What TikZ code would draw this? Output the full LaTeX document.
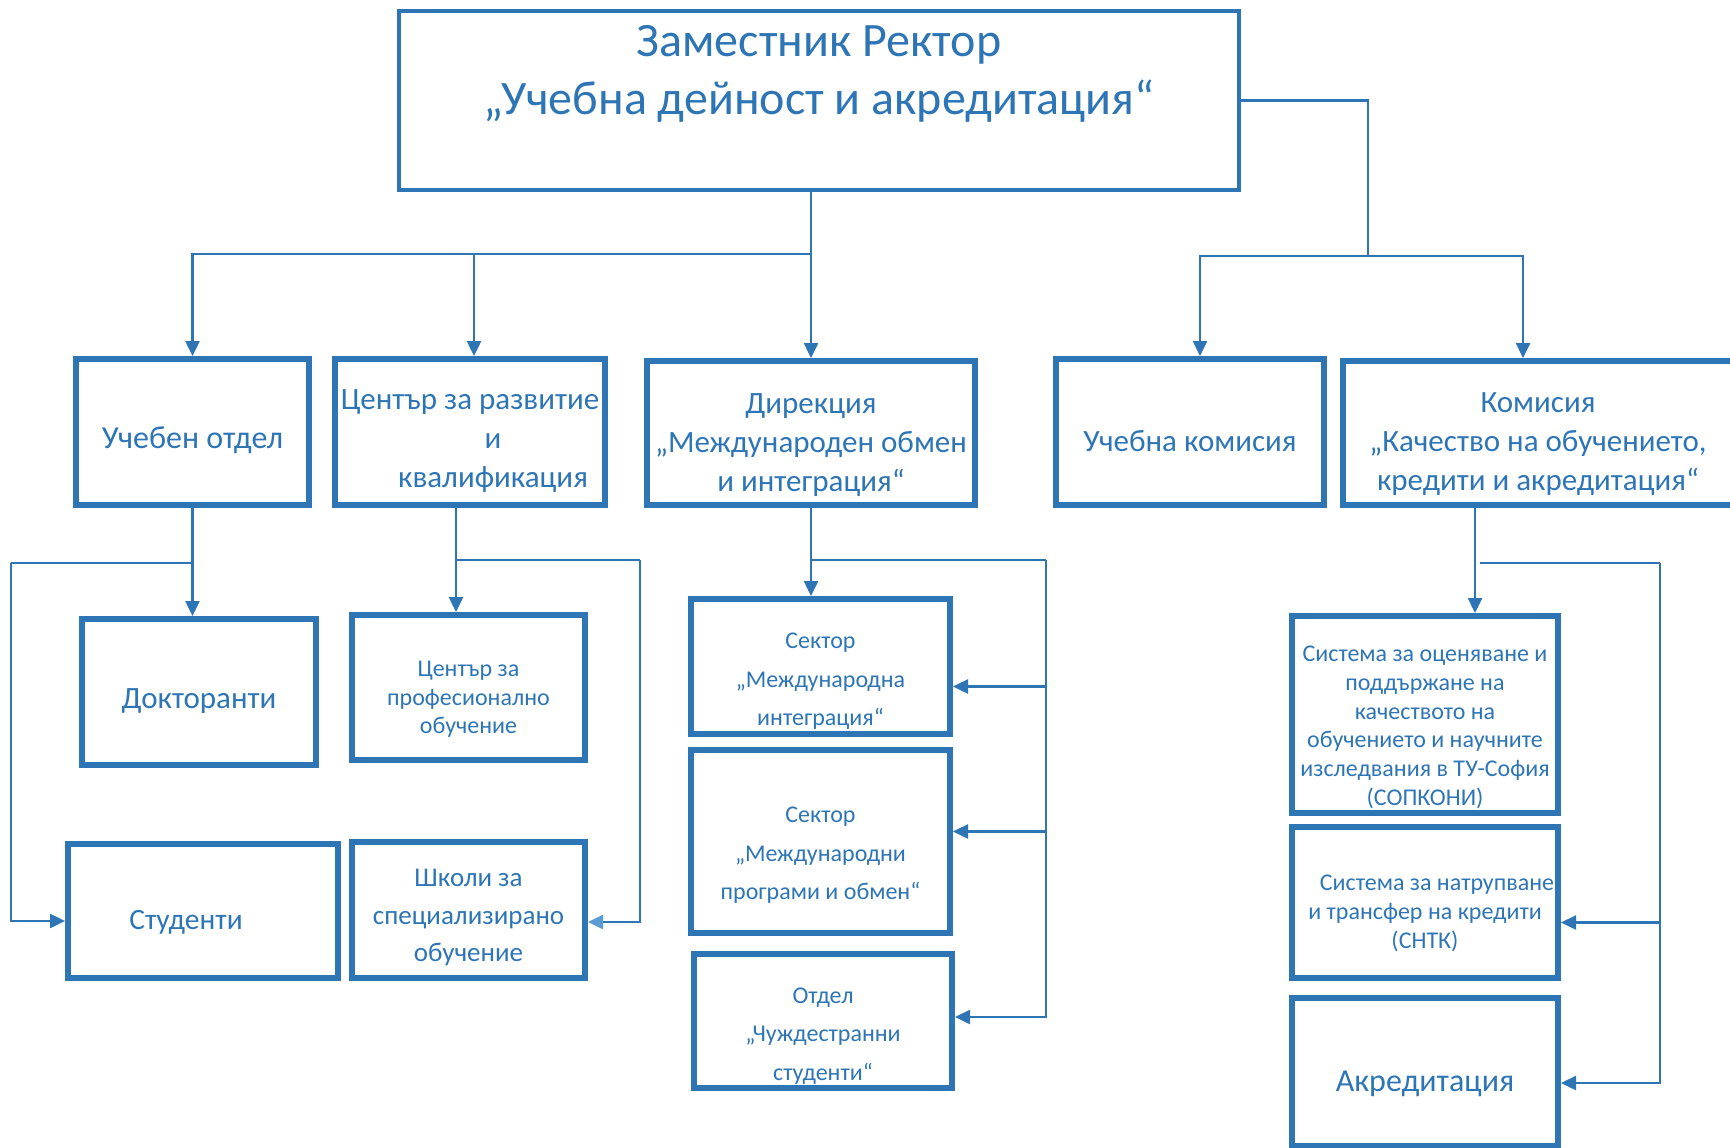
\documentclass[tikz,border=0pt]{standalone}
\usepackage{fontspec}
\setmainfont{Carlito}
\usepackage{tikz}
\usetikzlibrary{arrows.meta}
\definecolor{orgblue}{RGB}{46,117,182}
\definecolor{tipblue}{RGB}{91,155,213}

\begin{document}
\begin{tikzpicture}[x=1pt,y=-1pt,
    box/.style={draw=orgblue,line width=6pt,inner sep=0pt},
    txt/.style={text=orgblue,align=center,inner sep=0pt},
    titletxt/.style={txt,font=\fontsize{48}{58}\selectfont},
    bigtxt/.style={txt,font=\fontsize{31}{38.6}\selectfont},
    midtxt/.style={txt,font=\fontsize{27}{37.5}\selectfont},
    smalltxt/.style={txt,font=\fontsize{24}{38.6}\selectfont},
    densetxt/.style={txt,font=\fontsize{24}{28.7}\selectfont},
    wire/.style={draw=orgblue,line width=2.5pt},
    conn/.style={wire,-{Triangle[length=15pt,width=14pt]}}]
    \useasboundingbox (0,0) rectangle (1730,1148);
    % Top box
    \node[box,line width=4.5pt,minimum width=840pt,minimum height=179pt] (zam) at (819,100.5) {};
    \node[titletxt] (zamtxt) at ([yshift=27pt]zam.center) {Заместник Ректор\\„Учебна дейност и акредитация“};
    % Second level
    \node[box,minimum width=233pt,minimum height=146pt] (uchotd) at (192.5,432) {};
    \node[box,minimum width=270pt,minimum height=146pt] (centar) at (470,432) {};
    \node[box,minimum width=328pt,minimum height=144pt] (direk) at (811,433) {};
    \node[box,minimum width=268pt,minimum height=146pt] (uchkom) at (1190,432) {};
    \node[box,minimum width=390pt,minimum height=144pt] (komis) at (1538,433) {};
    \node[bigtxt,font=\fontsize{32}{38.6}\selectfont] (uchotdtxt) at ([yshift=-8pt]uchotd.center) {Учебен отдел};
    \node[bigtxt] (centartxt) at ([yshift=-9pt]centar.center) {Център за развитие\\\hspace*{46pt}и\\\hspace*{46pt}квалификация};
    \node[bigtxt] (direktxt) at ([yshift=-12pt]direk.center) {Дирекция\\„Международен обмен\\и интеграция“};
    \node[bigtxt] (uchkomtxt) at ([yshift=-9pt]uchkom.center) {Учебна комисия};
    \node[bigtxt] (komistxt) at ([yshift=-11pt]komis.center) {Комисия\\„Качество на обучението,\\кредити и акредитация“};
    % Third level
    \node[box,minimum width=234pt,minimum height=146pt] (dokt) at (199,692) {};
    \node[box,minimum width=270pt,minimum height=134pt] (stud) at (203,911) {};
    \node[box,minimum width=233pt,minimum height=145pt] (cpo) at (468.5,687.5) {};
    \node[box,minimum width=233pt,minimum height=136pt] (shkoli) at (468.5,910) {};
    \node[box,minimum width=259pt,minimum height=135pt] (sek1) at (820.5,666.5) {};
    \node[box,minimum width=259pt,minimum height=183pt] (sek2) at (820.5,841.5) {};
    \node[box,minimum width=258pt,minimum height=134pt] (otdel) at (823,1021) {};
    \node[box,minimum width=266pt,minimum height=197pt] (sopk) at (1425,714.5) {};
    \node[box,minimum width=266pt,minimum height=151pt] (sntk) at (1425,902.5) {};
    \node[box,minimum width=266pt,minimum height=148pt] (akred) at (1425,1072) {};
    \node[bigtxt] (dokttxt) at ([yshift=-9pt]dokt.center) {Докторанти};
    \node[bigtxt,font=\fontsize{29.5}{38.6}\selectfont] (studtxt) at ([xshift=-17pt,yshift=-11pt]stud.center) {Студенти};
    \node[densetxt] (cpotxt) at ([yshift=-12pt]cpo.center) {Център за\\професионално\\обучение};
    \node[midtxt] (shkolitxt) at ([yshift=-8pt]shkoli.center) {Школи за\\специализирано\\обучение};
    \node[smalltxt] (sek1txt) at ([yshift=-15pt]sek1.center) {Сектор\\„Международна\\интеграция“};
    \node[smalltxt] (sek2txt) at ([yshift=-14pt]sek2.center) {Сектор\\„Международни\\програми и обмен“};
    \node[smalltxt] (otdeltxt) at ([yshift=-15pt]otdel.center) {Отдел\\„Чуждестранни\\студенти“};
    \node[densetxt] (sopktxt) at ([yshift=-13pt]sopk.center) {Система за оценяване и\\поддържане на\\качеството на\\обучението и научните\\изследвания в ТУ-София\\(СОПКОНИ)};
    \node[densetxt] (sntktxt) at ([yshift=-11pt]sntk.center) {\hspace*{24pt}Система за натрупване\\и трансфер на кредити\\(СНТК)};
    \node[bigtxt,font=\fontsize{32}{38.6}\selectfont] (akredtxt) at ([yshift=-12pt]akred.center) {Акредитация};
    % Bus points
    \coordinate (busT) at (811,254);
    \coordinate (busR) at (1368,256);
    \coordinate (busU) at (11,563);
    \coordinate (busC) at (640,560);
    \coordinate (busD) at (1046,560);
    \coordinate (busK) at (1660,563);
    % Connectors from the top box
    \draw[conn] (zam.south -| direk.north) -- (direk.north);
    \draw[conn] (busT) -| (uchotd.north);
    \draw[conn] (busT) -| ([xshift=4pt]centar.north);
    \draw[wire] (zam.east) -| (busR);
    \draw[conn] (busR) -| ([xshift=10pt]uchkom.north);
    \draw[conn] (busR) -| ([xshift=-15pt]komis.north);
    % Учебен отдел
    \draw[conn] (uchotd.south) -- (uchotd.south |- dokt.north);
    \draw[wire] (uchotd.south |- busU) -- (busU);
    \draw[conn] (busU) |- ([yshift=-10pt]stud.west);
    % Център
    \draw[conn] ([xshift=-14pt]centar.south) -- ([xshift=-14pt]centar.south |- cpo.north);
    \draw[wire] ([xshift=-14pt]centar.south |- busC) -- (busC);
    \draw[wire,-{Triangle[length=15pt,width=14pt,color=tipblue]}] (busC) |- ([yshift=-12pt]shkoli.east);
    % Дирекция
    \draw[conn] (direk.south) -- (direk.south |- sek1.north);
    \draw[wire] (direk.south |- busD) -- (busD);
    \draw[conn] (busD) |- ([yshift=-20pt]sek1.east);
    \draw[conn] (busD) |- ([yshift=10pt]sek2.east);
    \draw[conn] (busD) |- ([yshift=4pt]otdel.east);
    % Комисия
    \draw[conn] ([xshift=-63pt]komis.south) -- ([xshift=-63pt]komis.south |- sopk.north);
    \draw[wire] ([xshift=-58pt]komis.south |- busK) -- (busK);
    \draw[conn] (busK) |- ([yshift=-20pt]sntk.east);
    \draw[conn] (busK) |- ([yshift=-11pt]akred.east);
\end{tikzpicture}
\end{document}
